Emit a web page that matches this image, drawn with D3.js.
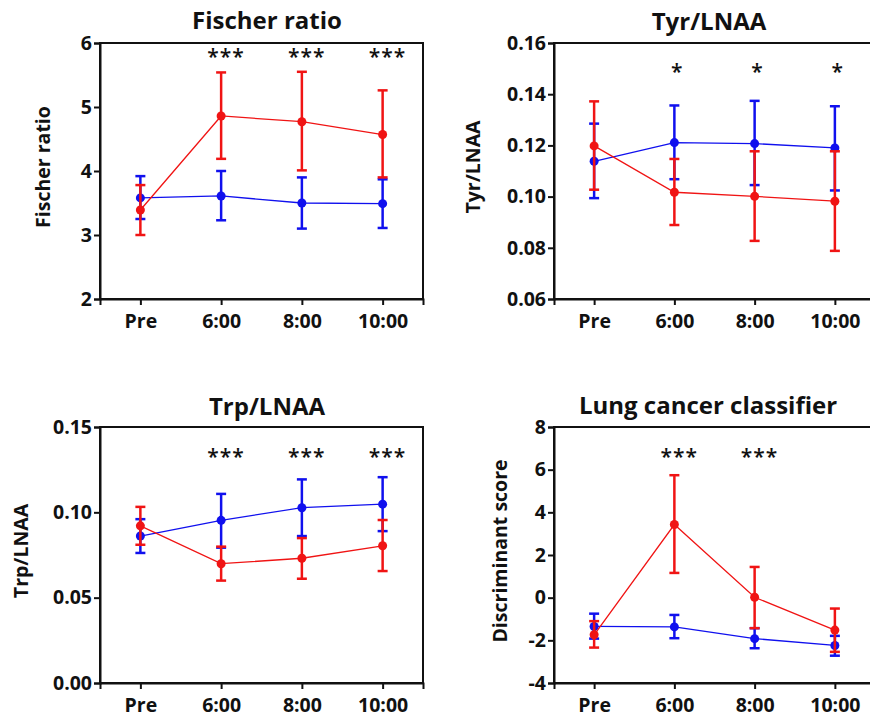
<!DOCTYPE html>
<html>
<head>
<meta charset="utf-8">
<script src="https://cdn.jsdelivr.net/npm/d3@7/dist/d3.min.js"></script>
<style>
  body { margin: 0; background: #fff; }
  svg text { font-family: "Open Sans", sans-serif; font-weight: 700; fill: #111; }
</style>
</head>
<body>
<svg id="chart" width="870" height="719"></svg>
<script>
//time points on the x axis
var times = ["Pre", "6:00", "8:00", "10:00"];

//Fischer ratio
var fischerBlue   = [3.58, 3.61, 3.50, 3.49];
var fischerBlueHi = [3.92, 4.00, 3.90, 3.87];
var fischerBlueLo = [3.25, 3.23, 3.10, 3.11];
var fischerRed    = [3.39, 4.86, 4.77, 4.57];
var fischerRedHi  = [3.78, 5.54, 5.55, 5.26];
var fischerRedLo  = [3.00, 4.19, 4.01, 3.90];
var fischerTicks  = [2, 3, 4, 5, 6];
var fischerStars  = ["", "***", "***", "***"];

//Tyr/LNAA
var tyrBlue   = [0.1138, 0.1211, 0.1207, 0.1190];
var tyrBlueHi = [0.1285, 0.1356, 0.1374, 0.1353];
var tyrBlueLo = [0.0994, 0.1068, 0.1045, 0.1024];
var tyrRed    = [0.1198, 0.1017, 0.1001, 0.0982];
var tyrRedHi  = [0.1372, 0.1147, 0.1177, 0.1177];
var tyrRedLo  = [0.1027, 0.0889, 0.0827, 0.0788];
var tyrTicks  = [0.06, 0.08, 0.10, 0.12, 0.14, 0.16];
var tyrStars  = ["", "*", "*", "*"];

//Trp/LNAA
var trpBlue   = [0.0861, 0.0953, 0.1027, 0.1048];
var trpBlueHi = [0.0960, 0.1108, 0.1193, 0.1206];
var trpBlueLo = [0.0762, 0.0793, 0.0861, 0.0890];
var trpRed    = [0.0921, 0.0699, 0.0731, 0.0804];
var trpRedHi  = [0.1032, 0.0799, 0.0849, 0.0955];
var trpRedLo  = [0.0810, 0.0600, 0.0611, 0.0656];
var trpTicks  = [0, 0.05, 0.10, 0.15];
var trpStars  = ["", "***", "***", "***"];

//lung cancer classifier (discriminant score)
var lungBlue   = [-1.35, -1.37, -1.92, -2.24];
var lungBlueHi = [-0.75, -0.81, -1.43, -1.79];
var lungBlueLo = [-1.92, -1.90, -2.37, -2.72];
var lungRed    = [-1.74, 3.43, 0.02, -1.52];
var lungRedHi  = [-1.10, 5.74, 1.44, -0.51];
var lungRedLo  = [-2.34, 1.16, -1.43, -2.54];
var lungTicks  = [-4, -2, 0, 2, 4, 6, 8];
var lungStars  = ["", "***", "***", ""];

var blue = "#1010ee";
var red = "#f01414";

var svg = d3.select("#chart");

//helper to turn parallel arrays into point objects
function makeSeries(mean, hi, lo) {
  return times.map(function(t, i) {
    return { time: t, value: mean[i], hi: hi[i], lo: lo[i] };
  });
}

var panels = [
  { title: "Fischer ratio", ylabel: "Fischer ratio", left: 100, right: 423, top: 43, bottom: 299,
    ticks: fischerTicks, fmt: d3.format("d"), stars: fischerStars, starY: 21,
    titleX: 267, titleY: 29, labelX: 43,
    blue: makeSeries(fischerBlue, fischerBlueHi, fischerBlueLo),
    red: makeSeries(fischerRed, fischerRedHi, fischerRedLo) },
  { title: "Tyr/LNAA", ylabel: "Tyr/LNAA", left: 554, right: 875, top: 43, bottom: 299,
    ticks: tyrTicks, fmt: d3.format(".2f"), stars: tyrStars, starY: 36,
    titleX: 709, titleY: 30, labelX: 473,
    blue: makeSeries(tyrBlue, tyrBlueHi, tyrBlueLo),
    red: makeSeries(tyrRed, tyrRedHi, tyrRedLo) },
  { title: "Trp/LNAA", ylabel: "Trp/LNAA", left: 100, right: 423, top: 427, bottom: 683,
    ticks: trpTicks, fmt: d3.format(".2f"), stars: trpStars, starY: 37,
    titleX: 267, titleY: 415, labelX: 21,
    blue: makeSeries(trpBlue, trpBlueHi, trpBlueLo),
    red: makeSeries(trpRed, trpRedHi, trpRedLo) },
  { title: "Lung cancer classifier", ylabel: "Discriminant score", left: 554, right: 875, top: 427, bottom: 683,
    ticks: lungTicks, fmt: function(d) { return d < 0 ? "-" + Math.abs(d) : "" + d; },
    stars: lungStars, starY: 37,
    titleX: 708, titleY: 414, labelX: 500,
    blue: makeSeries(lungBlue, lungBlueHi, lungBlueLo),
    red: makeSeries(lungRed, lungRedHi, lungRedLo) }
];

panels.forEach(function(p) {
  var g = svg.append("g");

  var xScale = d3.scalePoint()
    .domain(times)
    .range([p.left, p.right])
    .padding(0.5);

  var yScale = d3.scaleLinear()
    .domain([p.ticks[0], p.ticks[p.ticks.length - 1]])
    .range([p.bottom, p.top]);

  //frame around the plot
  g.append("rect")
    .attr("x", p.left)
    .attr("y", p.top)
    .attr("width", p.right - p.left)
    .attr("height", p.bottom - p.top)
    .attr("fill", "none")
    .attr("stroke", "#111")
    .attr("stroke-width", 2);

  //axes
  var yAxis = g.append("g")
    .attr("transform", "translate(" + p.left + ",0)")
    .call(d3.axisLeft(yScale).tickValues(p.ticks).tickFormat(p.fmt).tickSize(6).tickPadding(2));

  var xAxis = g.append("g")
    .attr("transform", "translate(0," + p.bottom + ")")
    .call(d3.axisBottom(xScale).tickSize(6).tickPadding(9));

  [yAxis, xAxis].forEach(function(a) {
    a.select(".domain").attr("stroke", "#111").attr("stroke-width", 2);
    a.selectAll(".tick line").attr("stroke", "#111").attr("stroke-width", 2);
    a.selectAll("text")
      .attr("fill", "#111")
      .style("font-size", "19.5px")
      .style("font-family", "'Open Sans', sans-serif")
      .style("font-weight", 700);
  });

  //title and y label
  g.append("text")
    .attr("x", p.titleX)
    .attr("y", p.titleY)
    .attr("text-anchor", "middle")
    .style("font-size", "24px")
    .text(p.title);

  g.append("text")
    .attr("transform", "translate(" + p.labelX + "," + ((p.top + p.bottom) / 2 - 4) + ") rotate(-90)")
    .attr("text-anchor", "middle")
    .attr("dy", "0.35em")
    .style("font-size", "19.5px")
    .text(p.ylabel);

  //significance stars
  g.selectAll(".star")
    .data(p.stars)
    .enter().append("text")
    .attr("class", "star")
    .attr("x", function(d, i) { return xScale(times[i]) + (d.length > 1 ? 5 : 3); })
    .attr("y", p.top + p.starY)
    .attr("text-anchor", "middle")
    .style("font-size", "21px")
    .style("font-weight", 600)
    .style("letter-spacing", "1px")
    .text(function(d) { return d; });

  var line = d3.line()
    .x(function(d) { return xScale(d.time); })
    .y(function(d) { return yScale(d.value); });

  //blue first, red on top
  [[p.blue, blue], [p.red, red]].forEach(function(s) {
    var data = s[0], color = s[1];
    var sg = g.append("g");

    sg.append("path")
      .attr("d", line(data))
      .attr("fill", "none")
      .attr("stroke", color)
      .attr("stroke-width", 1.3);

    var bars = sg.selectAll(".err")
      .data(data)
      .enter().append("g")
      .attr("class", "err")
      .attr("stroke", color)
      .attr("stroke-width", 2.5);

    bars.append("line")
      .attr("x1", function(d) { return xScale(d.time); })
      .attr("x2", function(d) { return xScale(d.time); })
      .attr("y1", function(d) { return yScale(d.hi); })
      .attr("y2", function(d) { return yScale(d.lo); });

    bars.append("line")
      .attr("x1", function(d) { return xScale(d.time) - 5; })
      .attr("x2", function(d) { return xScale(d.time) + 5; })
      .attr("y1", function(d) { return yScale(d.hi); })
      .attr("y2", function(d) { return yScale(d.hi); });

    bars.append("line")
      .attr("x1", function(d) { return xScale(d.time) - 5; })
      .attr("x2", function(d) { return xScale(d.time) + 5; })
      .attr("y1", function(d) { return yScale(d.lo); })
      .attr("y2", function(d) { return yScale(d.lo); });

    sg.selectAll(".dot")
      .data(data)
      .enter().append("circle")
      .attr("class", "dot")
      .attr("cx", function(d) { return xScale(d.time); })
      .attr("cy", function(d) { return yScale(d.value); })
      .attr("r", 4.5)
      .attr("fill", color);
  });
});
</script>
</body>
</html>
